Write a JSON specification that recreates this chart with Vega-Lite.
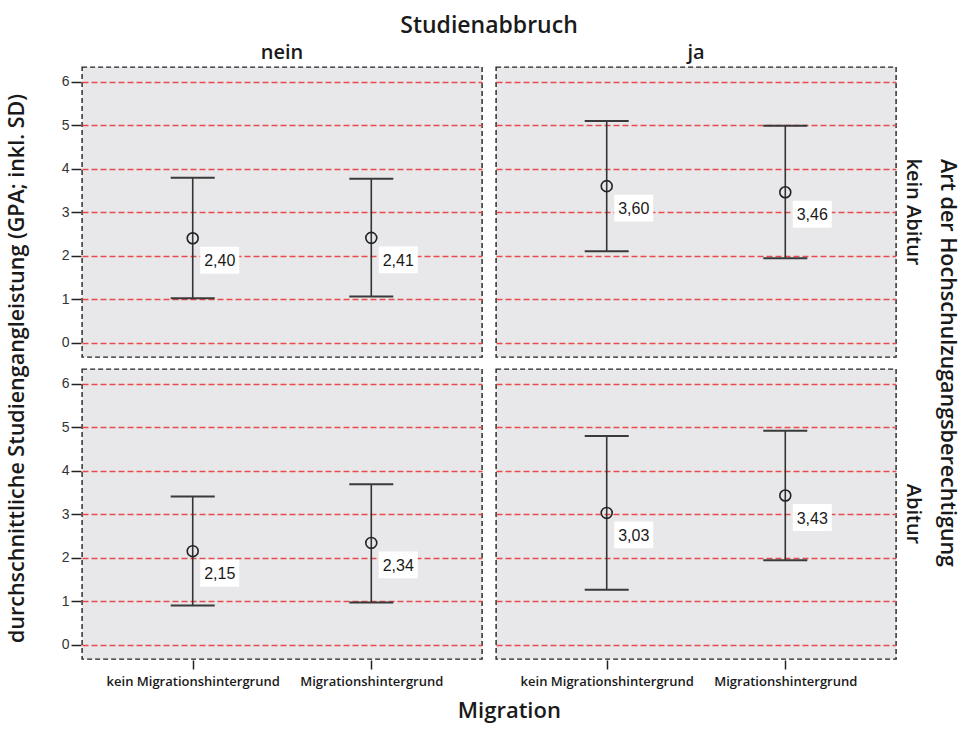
{
  "$schema": "https://vega.github.io/schema/vega-lite/v6.json",
  "background": "white",
  "padding": {"left": 6, "top": 15, "right": 5, "bottom": 5},
  "title": {"text": "durchschnittliche Studiengangleistung (GPA; inkl. SD)", "orient": "left", "anchor": "middle", "font": "Open Sans", "fontSize": 21.5, "fontWeight": 600, "color": "#1a1a1a", "offset": 33},
  "hconcat": [
    {
      "title": {"text": "Migration", "orient": "bottom", "anchor": "middle", "font": "Open Sans", "fontSize": 22, "fontWeight": 600, "color": "#1a1a1a", "offset": 13},
      "data": {"values": [
        {"abbruch": "nein", "hzb": "kein Abitur", "mig": "kein Migrationshintergrund", "mean": 2.40, "low": 1.02, "high": 3.79, "label": "2,40"},
        {"abbruch": "nein", "hzb": "kein Abitur", "mig": "Migrationshintergrund", "mean": 2.41, "low": 1.06, "high": 3.77, "label": "2,41"},
        {"abbruch": "ja", "hzb": "kein Abitur", "mig": "kein Migrationshintergrund", "mean": 3.60, "low": 2.10, "high": 5.10, "label": "3,60"},
        {"abbruch": "ja", "hzb": "kein Abitur", "mig": "Migrationshintergrund", "mean": 3.46, "low": 1.94, "high": 4.99, "label": "3,46"},
        {"abbruch": "nein", "hzb": "Abitur", "mig": "kein Migrationshintergrund", "mean": 2.15, "low": 0.90, "high": 3.41, "label": "2,15"},
        {"abbruch": "nein", "hzb": "Abitur", "mig": "Migrationshintergrund", "mean": 2.34, "low": 0.97, "high": 3.69, "label": "2,34"},
        {"abbruch": "ja", "hzb": "Abitur", "mig": "kein Migrationshintergrund", "mean": 3.03, "low": 1.26, "high": 4.80, "label": "3,03"},
        {"abbruch": "ja", "hzb": "Abitur", "mig": "Migrationshintergrund", "mean": 3.43, "low": 1.94, "high": 4.92, "label": "3,43"}
      ]},
      "facet": {
        "column": {"field": "abbruch", "type": "nominal", "sort": ["nein", "ja"], "title": "Studienabbruch",
          "header": {"titleFont": "Open Sans", "titleFontSize": 23, "titleFontWeight": 600, "titleColor": "#1a1a1a", "titlePadding": -5,
                     "labelFont": "Open Sans", "labelFontSize": 20, "labelFontWeight": 600, "labelColor": "#1a1a1a", "labelPadding": 3}},
        "row": {"field": "hzb", "type": "nominal", "sort": ["kein Abitur", "Abitur"], "title": "Art der Hochschulzugangsberechtigung",
          "header": {"labelOrient": "right", "titleOrient": "right", "labelAngle": 90, "titleAngle": 90,
                     "titleFont": "Open Sans", "titleFontSize": 21.5, "titleFontWeight": 600, "titleColor": "#1a1a1a", "titlePadding": 3,
                     "labelFont": "Open Sans", "labelFontSize": 20, "labelFontWeight": 600, "labelColor": "#1a1a1a", "labelPadding": 6}}
      },
      "spacing": {"column": 12, "row": 10},
      "spec": {
        "width": 400,
        "height": 290,
        "encoding": {
          "x": {"field": "mig", "type": "nominal", "sort": ["kein Migrationshintergrund", "Migrationshintergrund"],
                "scale": {"type": "point", "padding": 0.62},
                "axis": {"title": null, "labelAngle": 0, "domain": false, "ticks": true, "tickSize": 9, "tickWidth": 1.5, "tickColor": "#222",
                         "labelFont": "Open Sans", "labelFontSize": 13, "labelFontWeight": 600, "labelColor": "#1a1a1a", "labelPadding": 6, "grid": false}}
        },
        "layer": [
          {
            "mark": {"type": "rule", "color": "#333", "strokeWidth": 1.6},
            "encoding": {
              "y": {"field": "low", "type": "quantitative",
                    "scale": {"domain": [-0.33, 6.34], "nice": false, "zero": false},
                    "axis": {"title": null, "values": [0, 1, 2, 3, 4, 5, 6], "domain": false, "tickSize": 10, "tickWidth": 1.5, "tickColor": "#222",
                             "labelFont": "Liberation Sans", "labelFontSize": 14, "labelColor": "#333", "labelPadding": 2,
                             "grid": true, "gridColor": "#e84a4e", "gridDash": [6, 3], "gridWidth": 1.3, "gridOpacity": 1}},
              "y2": {"field": "high"}
            }
          },
          {
            "mark": {"type": "tick", "color": "#3a3a3a", "size": 44, "thickness": 2, "opacity": 1},
            "encoding": {"y": {"field": "low", "type": "quantitative"}}
          },
          {
            "mark": {"type": "tick", "color": "#3a3a3a", "size": 44, "thickness": 2, "opacity": 1},
            "encoding": {"y": {"field": "high", "type": "quantitative"}}
          },
          {
            "mark": {"type": "point", "shape": "circle", "filled": false, "stroke": "#222", "strokeWidth": 1.6, "size": 120, "opacity": 1},
            "encoding": {"y": {"field": "mean", "type": "quantitative"}}
          },
          {
            "mark": {"type": "point", "shape": "M -1 -0.69 L 1 -0.69 L 1 0.69 L -1 0.69 Z", "filled": true, "fill": "white", "strokeWidth": 0, "size": 1521, "opacity": 1, "xOffset": 27, "yOffset": 22},
            "encoding": {"y": {"field": "mean", "type": "quantitative"}}
          },
          {
            "mark": {"type": "text", "font": "Liberation Sans", "fontSize": 16, "color": "#1a1a1a", "align": "center", "baseline": "middle", "xOffset": 27, "yOffset": 23},
            "encoding": {"y": {"field": "mean", "type": "quantitative"}, "text": {"field": "label"}}
          }
        ]
      }
    }
  ],
  "config": {
    "view": {"fill": "#e8e8ea", "stroke": "#222", "strokeDash": [5, 3], "strokeWidth": 1.4},
    "concat": {"spacing": 0}
  }
}
